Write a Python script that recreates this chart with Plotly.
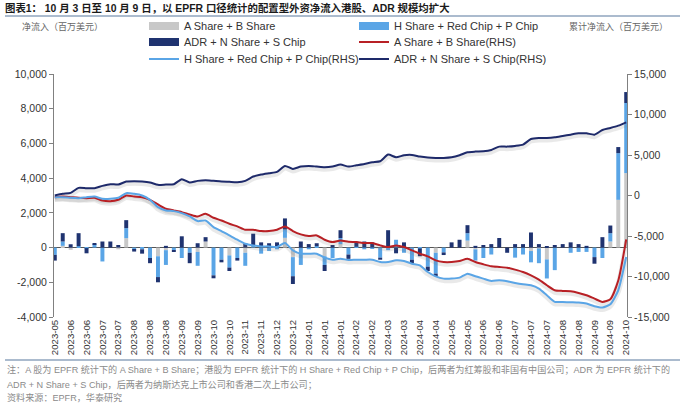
import plotly.graph_objects as go
import pandas as pd

# ---------------- data ----------------
weeks = pd.date_range("2023-05-24", "2024-10-09", freq="7D").strftime("%Y-%m-%d").tolist()
tick_weeks = weeks[::2]
tick_labels = [w[:7] for w in tick_weeks]

# weekly net inflow, USD mn (left axis)
a_share = [0, 100, -130, 0, 0, 0, 0, 0, -100, 540,
           0, 0, 0, -500, -150, 0, 0, 0, -250, 350,
           0, 0, -450, 0, -300, 0, 0, 0, 0, 560,
           -550, 0, 0, 0, -500, 0, 200, 0, 0, 0,
           0, 0, 0, 0, 0, 0, 0, 0, -300, 0,
           0, 0, 400, -100, 0, 0, 0, 0, 0, 0,
           -200, -50, -680, 0, 0, 0, 0, 0, 0, 0,
           350, 2750, 4290]
h_share = [-420, 250, 0, 80, -30, 200, -800, 0, 0, 580,
           -120, -100, -600, -1200, -850, -150, -600, -300, -800, 0,
           -1600, -700, -700, -600, -750, 150, -350, -200, -100, 480,
           -1100, -1000, -100, 80, -500, -600, 350, -400, 50, -100,
           -50, -580, -150, 450, -300, -700, -50, -1100, -1200, -280,
           0, 0, 430, -650, -600, -400, 0, 0, -580, -400,
           -650, -850, -1100, -1300, 0, -300, -250, -250, -550, -600,
           480, 2690, 4040]
adr = [-330, 480, 190, 750, -300, 50, 350, 350, 150, 460,
       -110, -250, -300, -300, 100, -80, 650, -600, 250, 250,
       -170, -150, -200, -150, 250, 650, 300, 250, 300, 640,
       -450, 350, 200, 170, -350, 150, 450, -250, 300, 350,
       300, -120, 1000, -330, 300, -200, -450, -250, -150, -150,
       300, 450, 460, 100, 150, 200, 550, -300, 200, 200,
       870, 200, 80, 150, 200, 300, 200, 100, -380, 600,
       440, 350, 630]

# cumulative net inflow, USD mn (right axis)
a_cum = [-205, -123, -205, -287, -328, -287, -616, -698, -533, 0,
         -123, -205, -533, -1108, -1642, -1847, -2052, -2340, -2586, -2258,
         -2750, -3079, -3490, -3818, -4228, -4228, -4392, -4392, -4228, -3818,
         -4392, -4803, -5008, -4926, -5459, -5746, -5541, -5700, -5747, -5870,
         -5870, -6158, -6363, -6158, -6363, -6773, -7184, -7512, -8005, -8210,
         -8210, -8087, -7800, -8210, -8497, -8744, -8826, -8908, -9154, -9442,
         -9852, -10386, -11084, -11700, -11782, -11822, -12028, -12315, -12725, -13136,
         -12808, -10500, -5419]
h_cum = [-205, -205, -287, -328, -205, -123, -411, -411, -287, 287,
         205, 0, -533, -1437, -1847, -1929, -2176, -2586, -3161, -3079,
         -3900, -4392, -4926, -5459, -5952, -6158, -6281, -6281, -6363, -5870,
         -6773, -7184, -7184, -7184, -7676, -7922, -7800, -7960, -7922, -7922,
         -7922, -8210, -8210, -8005, -8087, -8415, -8620, -9442, -9975, -10262,
         -10262, -10139, -9647, -9975, -10262, -10550, -10467, -10591, -10796, -10960,
         -11084, -11494, -12315, -13136, -13136, -13177, -13218, -13341, -13670, -13834,
         -13424, -11700, -7594]
adr_cum = [0, 205, 328, 944, 903, 903, 1190, 1396, 1355, 1724,
           1765, 1724, 1601, 1314, 1355, 1396, 2012, 1601, 1806, 1888,
           1806, 1724, 1683, 1642, 1806, 2340, 2586, 2750, 2914, 3653,
           3284, 3571, 3653, 3571, 3490, 3571, 3817, 3571, 3735, 3900,
           4105, 4228, 5049, 4721, 4967, 5008, 4803, 4680, 4639, 4639,
           4721, 4967, 5336, 5418, 5459, 5623, 6034, 6034, 6116, 6280,
           6978, 7101, 7101, 7184, 7348, 7512, 7676, 7676, 7512, 8087,
           8333, 8620, 9030]

left_ticks = [-4000, -2000, 0, 2000, 4000, 6000, 8000, 10000]
right_ticks = [-15000, -10000, -5000, 0, 5000, 10000, 15000]

names_bar = ["A Share + B Share", "H Share + Red Chip + P Chip", "ADR + N Share + S Chip"]
names_line = ["A Share + B Share(RHS)", "H Share + Red Chip + P Chip(RHS)", "ADR + N Share + S Chip(RHS)"]

title_text = "<b>图表1： 10 月 3 日至 10 月 9 日，以 EPFR 口径统计的配置型外资净流入港股、ADR 规模均扩大</b>"
left_title = "净流入（百万美元）"
right_title = "累计净流入（百万美元）"
note1 = "注：A 股为 EPFR 统计下的 A Share + B Share；港股为 EPFR 统计下的 H Share + Red Chip + P Chip，后两者为红筹股和非国有中国公司；ADR 为 EPFR 统计下的"
note2 = "ADR + N Share + S Chip，后两者为纳斯达克上市公司和香港二次上市公司；"
note3 = "资料来源：EPFR，华泰研究"

# ---------------- style ----------------
C_GRAY = "#C8C8C8"
C_LBLUE = "#5AA5E6"
C_NAVY = "#1F3370"
C_RED = "#B82025"
C_LNAVY = "#1E2A6A"
FONT = "Liberation Sans, Arial, Noto Sans CJK SC, sans-serif"

W, H = 700, 404
ML, MR, MT, MB = 54, 73, 74, 87
PW, PH = W - ML - MR, H - MT - MB


def px2x(px):
    return (px - ML) / PW


def py2y(py):
    return (H - MB - py) / PH


fig = go.Figure()

# bars
for vals, col, nm in [(a_share, C_GRAY, names_bar[0]), (h_share, C_LBLUE, names_bar[1]), (adr, C_NAVY, names_bar[2])]:
    fig.add_trace(go.Bar(x=weeks, y=vals, marker=dict(color=col, line=dict(width=0)), name=nm,
                         showlegend=False, yaxis="y"))

# soft shadows under the lines
for vals in [a_cum, h_cum, adr_cum]:
    fig.add_trace(go.Scatter(x=weeks, y=vals, mode="lines", yaxis="y2", showlegend=False, hoverinfo="skip",
                             line=dict(color="rgba(120,120,120,0.16)", width=4.5, shape="spline", smoothing=0.6)))

# lines
for vals, col, nm, lg in [(a_cum, C_RED, names_line[0], "legend4"),
                          (h_cum, C_LBLUE, names_line[1], "legend5"),
                          (adr_cum, C_LNAVY, names_line[2], "legend6")]:
    fig.add_trace(go.Scatter(x=weeks, y=vals, mode="lines", yaxis="y3", name=nm, legend=lg,
                             line=dict(color=col, width=2, shape="spline", smoothing=0.6)))

# legend swatches for bars
for col, nm, lg in [(C_GRAY, names_bar[0], "legend"), (C_LBLUE, names_bar[1], "legend2"),
                    (C_NAVY, names_bar[2], "legend3")]:
    fig.add_trace(go.Scatter(x=[None], y=[None], mode="lines", yaxis="y", name=nm, legend=lg,
                             line=dict(color=col, width=8)))

col1, col2 = 144, 354
rows = [26, 42, 59]
legend_pos = {
    "legend": (col1, rows[0]), "legend2": (col2, rows[0]),
    "legend3": (col1, rows[1]), "legend4": (col2, rows[1]),
    "legend5": (col1, rows[2]), "legend6": (col2, rows[2]),
}
leg_layout = {}
for k, (lx, ly) in legend_pos.items():
    leg_layout[k] = dict(x=px2x(lx), y=py2y(ly), xanchor="left", yanchor="middle",
                         bgcolor="rgba(0,0,0,0)", font=dict(size=11, color="#333333", family=FONT),
                         itemwidth=30)

fig.update_layout(
    width=W, height=H,
    margin=dict(l=ML, r=MR, t=MT, b=MB, pad=0, autoexpand=False),
    paper_bgcolor="white", plot_bgcolor="white",
    font=dict(family=FONT, size=10, color="#333333"),
    barmode="relative", bargap=0.5,
    title=dict(text=title_text, x=5 / W, xanchor="left", y=1 - 8 / H, yanchor="middle", yref="container",
               font=dict(size=10.4, color="#1a1a1a", family=FONT)),
    xaxis=dict(type="category", range=[-0.1, len(weeks) - 0.9], tickmode="array", tickvals=tick_weeks,
               ticktext=tick_labels, tickangle=-90, tickfont=dict(size=9.6, color="#333333"),
               showgrid=False, showline=False, ticks="", zeroline=False),
    yaxis=dict(range=[-4000, 10000], tickmode="array", tickvals=left_ticks,
               ticktext=[f"{v:,}" for v in left_ticks], showgrid=False, showline=True,
               linecolor="#808080", linewidth=1, ticks="outside", ticklen=4, tickcolor="#808080",
               zeroline=True, zerolinecolor="#555555", zerolinewidth=1,
               tickfont=dict(size=10.5, color="#333333")),
    yaxis2=dict(range=[-15000 + 280, 15000 + 280], overlaying="y", visible=False),
    yaxis3=dict(range=[-15000, 15000], overlaying="y", side="right", tickmode="array",
                tickvals=right_ticks, ticktext=[f"{v:,}" for v in right_ticks], showgrid=False,
                showline=True, linecolor="#808080", linewidth=1, ticks="outside", ticklen=4,
                tickcolor="#808080", zeroline=False, tickfont=dict(size=10.5, color="#333333")),
    **leg_layout,
)

# separator lines
for yy in [16, 360]:
    fig.add_shape(type="line", xref="paper", yref="paper", x0=px2x(5), x1=px2x(680), y0=py2y(yy), y1=py2y(yy),
                  line=dict(color="#8FA5BE", width=1.5))

# axis titles and notes
fig.add_annotation(text=left_title, xref="paper", yref="paper", x=px2x(20), y=py2y(26), xanchor="left",
                   yanchor="middle", showarrow=False, font=dict(size=9, color="#666666"))
fig.add_annotation(text=right_title, xref="paper", yref="paper", x=px2x(670), y=py2y(26), xanchor="right",
                   yanchor="middle", showarrow=False, font=dict(size=9, color="#666666"))
for txt, yy in [(note1, 369), (note2, 384), (note3, 397)]:
    fig.add_annotation(text=txt, xref="paper", yref="paper", x=px2x(5), y=py2y(yy), xanchor="left",
                       yanchor="middle", showarrow=False, font=dict(size=9.1, color="#8a8a8a"))

fig.write_html("out.html", config={"displayModeBar": False},
               post_script="document.body.style.margin='0px';document.body.style.overflow='hidden';")
